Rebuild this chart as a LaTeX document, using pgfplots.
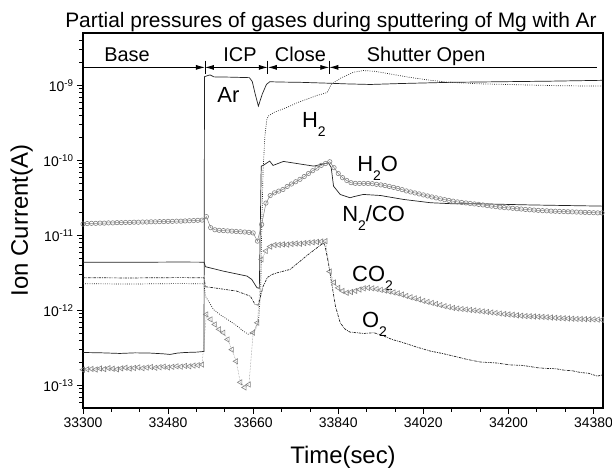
\documentclass[border=0pt]{standalone}
\usepackage{fontspec}
\setmainfont{Liberation Sans}
\usepackage{pgfplots}
\pgfplotsset{compat=1.18}
\usepackage{pgfplotstable}
\usetikzlibrary{arrows.meta}
\definecolor{mk}{RGB}{130,130,130}
\definecolor{ln}{RGB}{35,35,35}
\newcommand\sub[1]{\raisebox{-0.42em}{\fontsize{14}{14}\selectfont #1}}

\pgfplotstableread{
t h2o co2
33300 1.42e-11 1.62e-13
33309 1.44e-11 1.64e-13
33318 1.45e-11 1.66e-13
33327 1.45e-11 1.63e-13
33336 1.46e-11 1.68e-13
33345 1.46e-11 1.65e-13
33354 1.47e-11 1.70e-13
33363 1.47e-11 1.67e-13
33372 1.48e-11 1.64e-13
33381 1.48e-11 1.69e-13
33390 1.49e-11 1.72e-13
33399 1.49e-11 1.68e-13
33408 1.50e-11 1.71e-13
33417 1.50e-11 1.74e-13
33426 1.51e-11 1.70e-13
33435 1.51e-11 1.73e-13
33444 1.52e-11 1.76e-13
33453 1.52e-11 1.72e-13
33462 1.53e-11 1.75e-13
33471 1.53e-11 1.78e-13
33480 1.54e-11 1.74e-13
33489 1.54e-11 1.77e-13
33498 1.55e-11 1.80e-13
33507 1.55e-11 1.78e-13
33516 1.56e-11 1.82e-13
33525 1.57e-11 1.80e-13
33534 1.58e-11 1.84e-13
33543 1.59e-11 1.86e-13
33552 1.60e-11 1.90e-13
33561 1.78e-11 8.85e-13
33570 1.27e-11 7.60e-13
33579 1.19e-11 6.50e-13
33588 1.17e-11 5.60e-13
33597 1.16e-11 5.05e-13
33606 1.15e-11 4.10e-13
33615 1.14e-11 3.00e-13
33624 1.13e-11 2.10e-13
33633 1.12e-11 1.10e-13
33642 1.11e-11 9.40e-14
33651 1.10e-11 1.03e-13
33660 1.08e-11 5.05e-13
33669 8.40e-12 6.85e-13
33678 1.40e-11 4.80e-12
33687 2.70e-11 6.20e-12
33696 3.40e-11 7.10e-12
33705 3.70e-11 7.45e-12
33714 3.90e-11 7.50e-12
33723 4.10e-11 7.60e-12
33732 4.50e-11 7.55e-12
33741 4.85e-11 7.70e-12
33750 5.20e-11 7.80e-12
33759 5.60e-11 7.75e-12
33768 6.10e-11 7.90e-12
33777 6.70e-11 8.00e-12
33786 7.30e-11 8.10e-12
33795 7.90e-11 8.20e-12
33804 8.60e-11 8.30e-12
33813 9.10e-11 8.40e-12
33822 9.60e-11 3.30e-12
33831 8.00e-11 2.36e-12
33840 6.70e-11 2.00e-12
33849 5.90e-11 1.82e-12
33858 5.40e-11 1.72e-12
33867 5.05e-11 1.76e-12
33876 4.95e-11 1.82e-12
33885 4.93e-11 1.90e-12
33894 4.94e-11 1.97e-12
33903 4.93e-11 2.00e-12
33912 4.90e-11 1.97e-12
33921 4.80e-11 1.93e-12
33930 4.72e-11 1.88e-12
33939 4.62e-11 1.84e-12
33948 4.50e-11 1.79e-12
33957 4.37e-11 1.74e-12
33966 4.23e-11 1.69e-12
33975 4.08e-11 1.63e-12
33984 3.92e-11 1.56e-12
33993 3.80e-11 1.50e-12
34002 3.69e-11 1.45e-12
34011 3.58e-11 1.40e-12
34020 3.47e-11 1.34e-12
34029 3.36e-11 1.30e-12
34038 3.26e-11 1.26e-12
34047 3.17e-11 1.22e-12
34056 3.08e-11 1.18e-12
34065 3.00e-11 1.14e-12
34074 2.93e-11 1.11e-12
34083 2.86e-11 1.08e-12
34092 2.80e-11 1.06e-12
34101 2.75e-11 1.045e-12
34110 2.71e-11 1.03e-12
34119 2.67e-11 1.015e-12
34128 2.63e-11 1.00e-12
34137 2.59e-11 9.85e-13
34146 2.55e-11 9.70e-13
34155 2.50e-11 9.55e-13
34164 2.46e-11 9.40e-13
34173 2.42e-11 9.25e-13
34182 2.38e-11 9.10e-13
34191 2.35e-11 8.95e-13
34200 2.33e-11 8.85e-13
34209 2.30e-11 8.75e-13
34218 2.27e-11 8.60e-13
34227 2.25e-11 8.50e-13
34236 2.22e-11 8.40e-13
34245 2.20e-11 8.35e-13
34254 2.18e-11 8.30e-13
34263 2.16e-11 8.25e-13
34272 2.14e-11 8.20e-13
34281 2.13e-11 8.12e-13
34290 2.11e-11 8.05e-13
34299 2.10e-11 7.97e-13
34308 2.09e-11 7.90e-13
34317 2.08e-11 7.85e-13
34326 2.07e-11 7.80e-13
34335 2.06e-11 7.75e-13
34344 2.05e-11 7.70e-13
34353 2.04e-11 7.68e-13
34362 2.03e-11 7.65e-13
34371 2.02e-11 7.62e-13
34380 2.01e-11 7.60e-13
34389 2.00e-11 7.55e-13
34398 2.00e-11 7.50e-13
}\sampled

\begin{document}
\begin{tikzpicture}
\path[use as bounding box] (-83bp,-62bp) rectangle (529bp,408bp);
\begin{axis}[
  scale only axis, width=520bp, height=375bp,
  xmin=33300, xmax=34400,
  ymode=log, ymin=5e-14, ymax=5e-9,
  xtick={33300,33480,33660,33840,34020,34200,34380},
  minor x tick num=2,
  scaled x ticks=false,
  xticklabel style={/pgf/number format/.cd, fixed, precision=0, 1000 sep={}, assume math mode=true},
  ytick={1e-13,1e-12,1e-11,1e-10,1e-9},
  yticklabels={10\textsuperscript{-13},10\textsuperscript{-12},10\textsuperscript{-11},10\textsuperscript{-10},10\textsuperscript{-9}},
  minor ytick={6e-14,7e-14,8e-14,9e-14,
    2e-13,3e-13,4e-13,5e-13,6e-13,7e-13,8e-13,9e-13,
    2e-12,3e-12,4e-12,5e-12,6e-12,7e-12,8e-12,9e-12,
    2e-11,3e-11,4e-11,5e-11,6e-11,7e-11,8e-11,9e-11,
    2e-10,3e-10,4e-10,5e-10,6e-10,7e-10,8e-10,9e-10,
    2e-9,3e-9,4e-9},
  tick align=outside, xtick pos=bottom, ytick pos=left,
  major tick length=6bp, minor tick length=3.5bp,
  tick style={black, line width=0.8bp},
  axis line style={line width=1.1bp},
  tick label style={font=\fontsize{14}{16}\selectfont},
  xlabel={Time(sec)}, ylabel={Ion Current(A)},
  label style={font=\fontsize{24}{28}\selectfont},
  xlabel style={at={(axis description cs:0.5,-0.1467)}, anchor=base},
  ylabel style={at={(axis description cs:-0.1058,0.5)}, anchor=base},
]
% Ar
\addplot[ln, line width=0.7bp, mark=none] coordinates {
(33300,2.75e-13) (33340,2.72e-13) (33378,2.67e-13) (33410,2.72e-13) (33442,2.70e-13)
(33470,2.64e-13) (33484,2.59e-13) (33500,2.70e-13) (33516,2.75e-13) (33540,2.78e-13)
(33556,2.84e-13) (33557,1.31e-9) (33565,1.36e-9) (33569,1.38e-9) (33577,1.30e-9)
(33611,1.29e-9) (33652,1.27e-9) (33658,1.13e-9) (33664,7.8e-10) (33671,5.3e-10)
(33679,7.6e-10) (33688,1.03e-9) (33695,1.12e-9) (33717,1.11e-9) (33760,1.10e-9)
(33821,1.07e-9) (33855,1.05e-9) (33908,1.03e-9) (33971,1.06e-9) (34077,1.10e-9)
(34183,1.12e-9) (34289,1.14e-9) (34398,1.17e-9)};
% N2/CO
\addplot[ln, line width=0.7bp, mark=none] coordinates {
(33300,4.40e-12) (33400,4.38e-12) (33500,4.42e-12) (33556,4.40e-12) (33559,3.83e-12)
(33597,3.34e-12) (33647,2.87e-12) (33657,2.59e-12) (33668,2.01e-12) (33673,1.97e-12)
(33677,8.4e-11) (33681,8.58e-11) (33695,9.8e-11) (33702,8.58e-11) (33724,9.7e-11)
(33788,8.4e-11) (33819,9.3e-11) (33825,8.07e-11) (33830,4.54e-11) (33844,3.52e-11)
(33865,3.18e-11) (33872,3.28e-11) (33893,3.52e-11) (33929,3.41e-11) (33978,3.02e-11)
(34035,2.73e-11) (34084,2.64e-11) (34141,2.64e-11) (34247,2.55e-11) (34398,2.46e-11)};
% H2
\addplot[ln, line width=0.7bp, mark=none, dash pattern=on 0.8bp off 1.4bp] coordinates {
(33300,2.27e-12) (33400,2.25e-12) (33500,2.28e-12) (33556,2.27e-12) (33559,1.55e-12)
(33576,1.03e-12) (33592,8.6e-13) (33611,7.2e-13) (33626,6.2e-13) (33639,5.3e-13)
(33650,4.8e-13) (33661,5.05e-13) (33671,6.85e-13) (33676,1.9e-12) (33678,1.2e-11)
(33681,7.6e-11) (33685,2.22e-10) (33689,3.52e-10) (33692,3.9e-10) (33704,4.37e-10)
(33717,4.69e-10) (33734,5.17e-10) (33753,5.88e-10) (33772,6.5e-10) (33795,7.36e-10)
(33816,8.0e-10) (33820,8.85e-10) (33825,1.03e-9) (33844,1.24e-9) (33872,1.5e-9)
(33893,1.58e-9) (33918,1.54e-9) (33950,1.42e-9) (33992,1.28e-9) (34035,1.17e-9)
(34077,1.10e-9) (34141,1.05e-9) (34225,1.02e-9) (34310,0.99e-9) (34398,9.8e-10)};
% O2
\addplot[ln, line width=0.7bp, mark=none, dash pattern=on 2.5bp off 1bp on 0.7bp off 1bp] coordinates {
(33300,2.73e-12) (33400,2.71e-12) (33500,2.74e-12) (33556,2.73e-12) (33559,2.07e-12)
(33575,2.01e-12) (33625,1.81e-12) (33654,1.55e-12) (33664,1.20e-12) (33671,1.18e-12)
(33676,1.58e-12) (33681,2.09e-12) (33690,2.75e-12) (33700,3.02e-12) (33711,3.18e-12)
(33738,3.52e-12) (33774,5.41e-12) (33809,8.0e-12) (33812,7.2e-12) (33819,4.32e-12)
(33827,2.11e-12) (33834,1.14e-12) (33844,6.85e-13) (33855,5.58e-13) (33865,5.14e-13)
(33894,4.93e-13) (33915,5.05e-13) (33933,4.64e-13) (33954,4.10e-13) (33978,3.71e-13)
(34005,3.26e-13) (34035,2.87e-13) (34060,2.67e-13) (34084,2.46e-13) (34113,2.22e-13)
(34141,2.05e-13) (34172,2.00e-13) (34204,1.88e-13) (34230,1.85e-13) (34247,1.78e-13)
(34262,1.72e-13) (34278,1.69e-13) (34300,1.67e-13) (34317,1.60e-13) (34335,1.57e-13)
(34352,1.49e-13) (34370,1.45e-13) (34388,1.33e-13) (34398,1.38e-13)};
% H2O
\addplot[mk, line width=0.5bp, mark=o, mark size=2.2bp, mark options={solid, line width=0.6bp}]
  table[x=t, y=h2o] {\sampled};
% CO2
\addplot[mk, line width=0.5bp, densely dotted, mark=triangle, mark size=3bp,
  mark options={solid, line width=0.6bp, rotate=90}]
  table[x=t, y=co2] {\sampled};

% phase annotation
\draw[line width=0.8bp, -{Latex[length=9bp,width=5bp]}] (axis cs:33300,1.74e-9) -- (axis cs:33558,1.74e-9);
\draw[line width=0.8bp, {Latex[length=9bp,width=5bp]}-{Latex[length=9bp,width=5bp]}] (axis cs:33558,1.74e-9) -- (axis cs:33691,1.74e-9);
\draw[line width=0.8bp, {Latex[length=9bp,width=5bp]}-{Latex[length=9bp,width=5bp]}] (axis cs:33691,1.74e-9) -- (axis cs:33821,1.74e-9);
\draw[line width=0.8bp, {Latex[length=9bp,width=5bp]}-] (axis cs:33821,1.74e-9) -- (axis cs:34388,1.74e-9);
\draw[line width=0.8bp] (axis cs:33558,2.15e-9) -- (axis cs:33558,1.40e-9);
\draw[line width=0.8bp] (axis cs:33691,2.15e-9) -- (axis cs:33691,1.40e-9);
\draw[line width=0.8bp] (axis cs:33821,2.15e-9) -- (axis cs:33821,1.40e-9);
\begin{scope}[every node/.style={inner sep=0pt, anchor=base, font=\fontsize{20}{24}\selectfont}]
\node at (axis cs:33393,2.06e-9) {Base};
\node at (axis cs:33632,2.06e-9) {ICP};
\node at (axis cs:33760,2.06e-9) {Close};
\node at (axis cs:34026,2.06e-9) {Shutter Open};
\end{scope}
\begin{scope}[every node/.style={inner sep=0pt, anchor=base west, font=\fontsize{22}{26}\selectfont}]
\node at (axis cs:33584,5.98e-10) {Ar};
\node at (axis cs:33763,2.73e-10) {H\sub{2}};
\node at (axis cs:33880,7.2e-11) {H\sub{2}O};
\node at (axis cs:33848,1.55e-11) {N\sub{2}/CO};
\node at (axis cs:33869,2.46e-12) {CO\sub{2}};
\node at (axis cs:33890,5.88e-13) {O\sub{2}};
\end{scope}
\end{axis}
\node[anchor=base, inner sep=0pt, font=\fontsize{21}{25}\selectfont] at (248bp,380bp)
  {Partial pressures of gases during sputtering of Mg with Ar};
\end{tikzpicture}
\end{document}
